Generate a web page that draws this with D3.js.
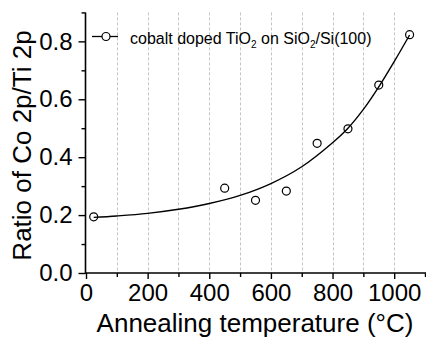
<!DOCTYPE html>
<html>
<head>
<meta charset="utf-8">
<script src="https://cdn.jsdelivr.net/npm/d3@7"></script>
<style>
  html, body { margin: 0; padding: 0; background: #fff; }
  svg { display: block; font-family: Arial, "Liberation Sans", sans-serif; }
</style>
</head>
<body>
<svg id="chart" width="426" height="342"></svg>
<script>
// Measured data points
const tempPoints = [25, 450, 550, 650, 750, 850, 950, 1050];
const ratioPoints = [0.194, 0.293, 0.251, 0.283, 0.448, 0.498, 0.649, 0.823];

// Fitted curve
const fitTemps = [25, 100, 200, 300, 400, 500, 600, 700, 800, 850, 900, 950, 1000, 1050];
const fitRatios = [0.192, 0.197, 0.206, 0.220, 0.240, 0.268, 0.309, 0.367, 0.450, 0.500, 0.565, 0.643, 0.730, 0.822];

const xMajorTicks = [0, 200, 400, 600, 800, 1000];
const xMinorTicks = [100, 300, 500, 700, 900, 1100];
const yMajorTicks = [0.0, 0.2, 0.4, 0.6, 0.8];
const yMinorTicks = [0.1, 0.3, 0.5, 0.7, 0.9];
const gridTemps = [100, 200, 300, 400, 500, 600, 700, 800, 900, 1000];

const legendLabel = "cobalt doped TiO";
const xTitle = "Annealing temperature (°C)";
const yTitle = "Ratio of Co 2p/Ti 2p";

(function () {
const svg = d3.select("#chart");
const pL = 86, pR = 425, pT = 12.4, pB = 273;

const x = d3.scaleLinear().domain([0, 1100]).range([pL, pR]);
const y = d3.scaleLinear().domain([0, 0.9]).range([pB, pT]);

// grid lines
svg.append("g").selectAll("line").data(gridTemps).join("line")
  .attr("x1", d => Math.round(x(d)) + 0.5).attr("x2", d => Math.round(x(d)) + 0.5)
  .attr("y1", pT).attr("y2", pB)
  .attr("stroke", "#c4c4c4").attr("stroke-width", 1)
  .attr("stroke-dasharray", "3,2");

// X axis
const xAxisMajor = d3.axisBottom(x).tickValues(xMajorTicks).tickSize(6).tickPadding(5)
  .tickFormat(d3.format("d"));
const xAxisMinor = d3.axisBottom(x).tickValues(xMinorTicks).tickSize(4).tickFormat("");
const gx = svg.append("g").attr("transform", `translate(0,${pB})`);
gx.call(xAxisMajor);
svg.append("g").attr("transform", `translate(0,${pB})`).call(xAxisMinor)
  .call(g => g.select(".domain").remove());
gx.select(".domain").attr("d", `M${pL - 1},0H${426}`);

// Y axis
const yAxisMajor = d3.axisLeft(y).tickValues(yMajorTicks).tickSize(7).tickPadding(6)
  .tickFormat(d3.format(".1f"));
const yAxisMinor = d3.axisLeft(y).tickValues(yMinorTicks).tickSize(4).tickFormat("");
const gy = svg.append("g").attr("transform", `translate(${pL - 0.5},0)`);
gy.call(yAxisMajor);
svg.append("g").attr("transform", `translate(${pL - 0.5},0)`).call(yAxisMinor)
  .call(g => g.select(".domain").remove());
gy.select(".domain").attr("d", `M0,${pT}V${pB}`);

svg.selectAll(".domain").attr("stroke", "#000").attr("stroke-width", 1.6);
svg.selectAll(".tick line").attr("stroke", "#000").attr("stroke-width", 1.4);
svg.selectAll(".tick text").attr("font-size", 24).attr("fill", "#000")
  .attr("font-family", "Arial, 'Liberation Sans', sans-serif");

// fitted curve
const line = d3.line().x((d, i) => x(fitTemps[i])).y(d => y(d)).curve(d3.curveCatmullRom.alpha(0.5));
svg.append("path").datum(fitRatios)
  .attr("d", line).attr("fill", "none").attr("stroke", "#000").attr("stroke-width", 1.4);

// points
svg.append("g").selectAll("circle").data(ratioPoints).join("circle")
  .attr("cx", (d, i) => x(tempPoints[i])).attr("cy", d => y(d)).attr("r", 4)
  .attr("fill", "none").attr("stroke", "#000").attr("stroke-width", 1.2);

// legend
const lg = svg.append("g");
lg.append("line").attr("x1", 92).attr("x2", 118).attr("y1", 36.5).attr("y2", 36.5)
  .attr("stroke", "#000").attr("stroke-width", 1.3);
lg.append("circle").attr("cx", 106).attr("cy", 36.5).attr("r", 4)
  .attr("fill", "#fff").attr("stroke", "#000").attr("stroke-width", 1.2);
const lt = lg.append("text").attr("x", 130).attr("y", 44).attr("font-size", 16).attr("fill", "#000");
lt.append("tspan").text(legendLabel);
lt.append("tspan").text("2").attr("font-size", 10).attr("dy", 4);
lt.append("tspan").text(" on SiO").attr("dy", -4);
lt.append("tspan").text("2").attr("font-size", 10).attr("dy", 4);
lt.append("tspan").text("/Si(100)").attr("dy", -4);

// axis titles
svg.append("text").attr("x", (97 + 413) / 2).attr("y", 332).attr("text-anchor", "middle")
  .attr("font-size", 26).attr("fill", "#000").text(xTitle);
svg.append("text").attr("transform", `translate(31,145.5) rotate(-90)`)
  .attr("text-anchor", "middle").attr("font-size", 26).attr("fill", "#000").text(yTitle);
})();
</script>
</body>
</html>
